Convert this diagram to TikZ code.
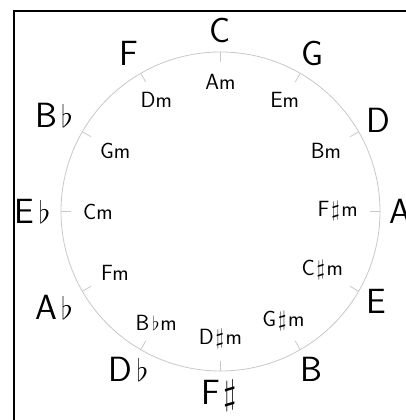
\RequirePackage{fix-cm}
\documentclass[tikz,border=0pt]{standalone}
\usepackage{graphicx}
\usetikzlibrary{calc}
\definecolor{wheelgray}{RGB}{200,200,200}
% accidentals with a little air around them
\newcommand\flatsign{\kern0.12em\scalebox{0.88}{$\flat$}\kern0.04em}
\newcommand\sharpsign{\kern0.08em$\sharp$\kern0.08em}
\begin{document}
\begin{tikzpicture}[x=1pt,y=1pt,
  wheel/.style={draw=wheelgray, line width=0.8pt},
  majorkey/.style={font=\sffamily\fontsize{35}{38}\selectfont, inner sep=0pt},
  minorkey/.style={font=\sffamily\fontsize{22}{25}\selectfont, inner sep=0pt}]
\useasboundingbox (0,0) rectangle (406,420);
\clip (0,0) rectangle (406,420);
% frame (its right and bottom sides lie off the page)
\draw[line width=2pt] (14,-20) rectangle (440,409);
% the circle of fifths
\coordinate (O) at (220.5,208.5);
\draw[wheel] (O) circle (159.5);
\foreach \maj/\mnr [count=\i from 0] in {C/A, G/E, D/B, A/F\sharpsign, E/C\sharpsign, B/G\sharpsign,
    F\sharpsign/D\sharpsign, D\flatsign/B\flatsign, A\flatsign/F, E\flatsign/C, B\flatsign/G, F/D} {
  \pgfmathtruncatemacro\ang{mod(450-30*\i,360)}
  \pgfmathtruncatemacro\opp{mod(\ang+180,360)}
  \draw[wheel] ([shift={(\ang:159.5)}]O) -- ([shift={(\ang:149.5)}]O);
  \node[majorkey, anchor=\opp] (maj\i) at ([shift={(\ang:168.5)}]O) {\maj};
  \node[minorkey, anchor=\ang] (min\i) at ([shift={(\ang:137.5)}]O) {\mnr m};
}
\end{tikzpicture}
\end{document}
